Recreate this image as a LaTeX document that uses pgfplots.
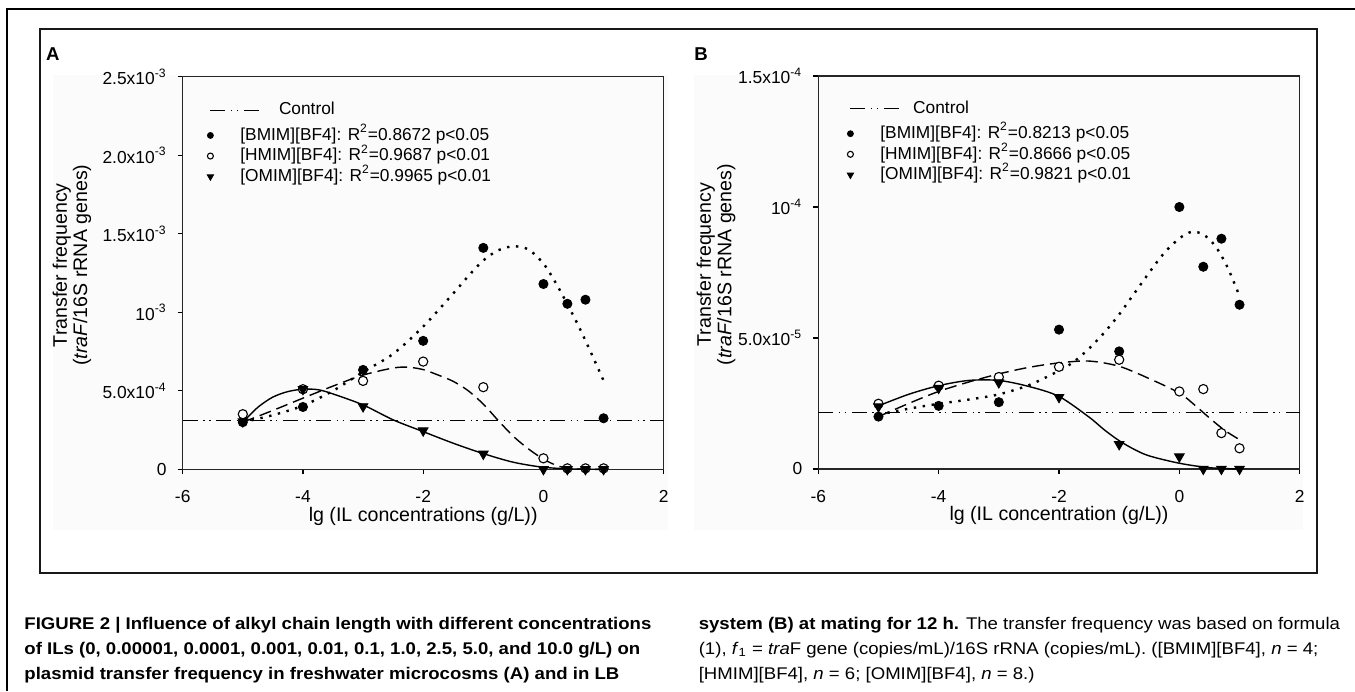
\documentclass[border=0pt]{standalone}
\usepackage{fontspec}
\setmainfont{Liberation Sans}
\usepackage{graphicx}
\usepackage{pgfplots}
\pgfplotsset{compat=1.18}

\newcommand\tickfont{\fontsize{8.7}{10}\selectfont}
\newcommand\labfont{\fontsize{9.8}{10.2}\selectfont}
\newcommand\legfont{\fontsize{8.65}{10}\selectfont}
\newcommand\capfont{\fontsize{8.45}{10}\selectfont}

\pgfplotsset{
  panel/.style={
    scale only axis, width=240.5pt, height=196.3pt,
    xmin=-6, xmax=2, ymin=0,
    xtick={-6,-4,-2,0,2}, xticklabels={-6,-4,-2,0,2},
    tick pos=left, tick align=outside, major tick length=2.5pt,
    scaled y ticks=false,
    ticklabel style={font=\tickfont},
    xticklabel style={yshift=-4.5pt},
    yticklabel style={xshift=-2pt},
    axis line style={black!85, line width=0.7pt},
    tick style={black, line width=0.6pt},
    label style={font=\labfont},
    xlabel style={at={(rel axis cs:0.5,-0.1318)}, anchor=base},
    ylabel style={align=center, anchor=center},
    clip=false,
    legend cell align=left,
    legend style={draw=none, fill=none, inner sep=0pt, anchor=north west,
      font=\legfont, row sep=2pt, column sep=0pt,
      nodes={inner sep=0pt, text height=6.5pt, text depth=1.8pt}},
  },
  ctrl/.style={black, line width=0.6pt,
    dash pattern=on 7.5pt off 2.8pt on 0.7pt off 2.2pt on 0.7pt off 2.8pt,
    legend image code/.code={
      \path[draw=none, fill=none] (-3pt,-6.5pt) rectangle (15pt,2.5pt);
      \draw[##1,overlay] (0pt,0pt) -- (25pt,0pt);}},
  markleg/.style={legend image code/.code={
      \path[draw=none, fill=none] (-3pt,-2.5pt) rectangle (15pt,2.5pt);
      \draw[mark repeat=1,##1,every mark/.append style={scale=0.65}] plot coordinates {(0pt,0pt)};}},
  bm/.style={only marks, mark=*, mark size=2.3pt, mark options={black, fill=black}, markleg},
  hm/.style={only marks, mark=*, mark size=2.3pt, mark options={black, fill=white, line width=0.55pt}, markleg},
  om/.style={only marks, mark=triangle*, mark size=2.8pt, mark options={black, fill=black, rotate=180}, markleg},
  bfit/.style={black, line width=1.2pt, dash pattern=on 1.2pt off 3.3pt, smooth, mark=none},
  hfit/.style={black, line width=0.7pt, dash pattern=on 6pt off 3pt, smooth, mark=none},
  ofit/.style={black, line width=0.7pt, smooth, mark=none},
}

\begin{document}
\begin{tikzpicture}
\path[use as bounding box] (0,0) rectangle (677.5pt,-345.5pt);

% scan background and frames
\fill[black!1.5] (26.5pt,-37.5pt) rectangle (334pt,-265pt);
\fill[black!1.5] (347pt,-37.5pt) rectangle (651.5pt,-265pt);
\draw[black, line width=1.3pt] (677.5pt,-4.5pt) -- (3.5pt,-4.5pt) -- (3.5pt,-345.5pt);
\draw[black!90, line width=1pt] (20pt,-14.5pt) rectangle (658.5pt,-286.5pt);

\node[anchor=base west, inner sep=0pt, font=\fontsize{9.3}{10}\selectfont\bfseries] at (22.85pt,-30pt) {A};
\node[anchor=base west, inner sep=0pt, font=\fontsize{9.3}{10}\selectfont\bfseries] at (347pt,-30pt) {B};

% ---------- panel A ----------
\begin{axis}[panel, at={(91.35pt,-234.65pt)}, anchor=south west,
  ymax=2.5e-3, ytick={0,5e-4,1e-3,1.5e-3,2e-3,2.5e-3},
  yticklabels={0, 5.0x10\textsuperscript{-4}, 10\textsuperscript{-3}, 1.5x10\textsuperscript{-3}, 2.0x10\textsuperscript{-3}, 2.5x10\textsuperscript{-3}},
  xlabel={lg (IL concentrations (g/L))},
  ylabel={Transfer frequency\\(\textit{traF}/16S rRNA genes)},
  ylabel style={at={(rel axis cs:-0.2303,0.52)}},
  legend style={at={(rel axis cs:0.0443,0.937)}},
]
\addplot[ctrl] coordinates {(-6,3.1e-4) (2,3.1e-4)};
\addlegendentry{\hspace{19.3pt}Control}

\addplot[bfit, forget plot] coordinates {
  (-5,3.0e-4) (-4.5,3.45e-4) (-4,4.05e-4) (-3.5,5.0e-4) (-3,6.2e-4) (-2.5,7.35e-4)
  (-2,9.09e-4) (-1.5,1.12e-3) (-1.25,1.23e-3) (-1,1.33e-3) (-0.75,1.395e-3) (-0.5,1.42e-3)
  (-0.25,1.40e-3) (0,1.31e-3) (0.2,1.19e-3) (0.4,1.05e-3) (0.6,0.90e-3) (0.8,0.735e-3) (1,0.565e-3)};
\addplot[hfit, forget plot] coordinates {
  (-5,3.0e-4) (-4.5,3.75e-4) (-4,4.53e-4) (-3.5,5.3e-4) (-3,6.0e-4) (-2.5,6.45e-4)
  (-2.25,6.5e-4) (-2,6.35e-4) (-1.75,6.0e-4) (-1.5,5.6e-4) (-1.25,5.0e-4) (-1,4.15e-4)
  (-0.75,3.1e-4) (-0.5,2.1e-4) (-0.25,1.3e-4) (0,0.65e-4) (0.25,0.2e-4) (0.5,0.03e-4) (0.75,0) (1,0)};
\addplot[ofit, forget plot] coordinates {
  (-5,3.0e-4) (-4.75,3.95e-4) (-4.5,4.6e-4) (-4.25,4.95e-4) (-4,5.1e-4) (-3.75,5.07e-4)
  (-3.5,4.8e-4) (-3,4.1e-4) (-2.5,3.15e-4) (-2,2.4e-4) (-1.5,1.66e-4) (-1,1.0e-4)
  (-0.5,0.45e-4) (0,0.13e-4) (0.5,0.02e-4) (1,0)};

\addplot[bm] coordinates {
  (-5,3.0e-4) (-4,3.97e-4) (-3,6.33e-4) (-2,8.18e-4) (-1,1.41e-3)
  (0,1.18e-3) (0.398,1.054e-3) (0.699,1.08e-3) (1,3.25e-4)};
\addlegendentry{{[BMIM][BF4]}: R\textsuperscript{2}=0.8672 p<0.05}
\addplot[hm] coordinates {
  (-5,3.51e-4) (-4,5.1e-4) (-3,5.63e-4) (-2,6.86e-4) (-1,5.23e-4)
  (0,0.7e-4) (0.398,0.06e-4) (0.699,0.06e-4) (1,0.06e-4)};
\addlegendentry{{[HMIM][BF4]}: R\textsuperscript{2}=0.9687 p<0.01}
\addplot[om] coordinates {
  (-5,3.04e-4) (-4,5.1e-4) (-3,4.0e-4) (-2,2.46e-4) (-1,0.98e-4)
  (0,0) (0.398,0) (0.699,0) (1,0)};
\addlegendentry{{[OMIM][BF4]}: R\textsuperscript{2}=0.9965 p<0.01}
\end{axis}

% ---------- panel B ----------
\begin{axis}[panel, at={(409.15pt,-234.5pt)}, anchor=south west,
  width=240.7pt, height=196.5pt,
  ymax=1.5e-4, ytick={0,5e-5,1e-4,1.5e-4},
  yticklabels={0, 5.0x10\textsuperscript{-5}, 10\textsuperscript{-4}, 1.5x10\textsuperscript{-4}},
  xlabel={lg (IL concentration (g/L))},
  ylabel={Transfer frequency\\(\textit{traF}/16S rRNA genes)},
  ylabel style={at={(rel axis cs:-0.2125,0.52)}},
  legend style={at={(rel axis cs:0.0534,0.9397)}},
]
\addplot[ctrl] coordinates {(-6,2.15e-5) (2,2.15e-5)};
\addlegendentry{\hspace{16.4pt}Control}

\addplot[bfit, forget plot] coordinates {
  (-5,2.07e-5) (-4.5,2.3e-5) (-4,2.49e-5) (-3.5,2.65e-5) (-3,2.85e-5) (-2.5,3.2e-5)
  (-2,3.75e-5) (-1.75,4.1e-5) (-1.5,4.6e-5) (-1.25,5.2e-5) (-1,5.9e-5) (-0.75,6.7e-5)
  (-0.5,7.5e-5) (-0.25,8.25e-5) (0,8.8e-5) (0.2,9.05e-5) (0.4,8.95e-5) (0.6,8.5e-5)
  (0.8,7.7e-5) (1,6.6e-5)};
\addplot[hfit, forget plot] coordinates {
  (-5,2.0e-5) (-4.5,2.5e-5) (-4,2.96e-5) (-3.5,3.32e-5) (-3,3.63e-5) (-2.5,3.88e-5)
  (-2,4.05e-5) (-1.5,4.12e-5) (-1,3.92e-5) (-0.5,3.45e-5) (0,2.9e-5) (0.25,2.45e-5)
  (0.5,1.95e-5) (0.75,1.48e-5) (1,1.12e-5)};
\addplot[ofit, forget plot] coordinates {
  (-5,2.41e-5) (-4.5,2.85e-5) (-4,3.18e-5) (-3.5,3.38e-5) (-3,3.38e-5) (-2.5,3.15e-5)
  (-2,2.77e-5) (-1.5,1.98e-5) (-1.25,1.5e-5) (-1,1.08e-5) (-0.75,0.75e-5) (-0.5,0.5e-5)
  (0,0.22e-5) (0.5,0.05e-5) (1,0)};

\addplot[bm] coordinates {
  (-5,2.0e-5) (-4,2.41e-5) (-3,2.55e-5) (-2,5.32e-5) (-1,4.49e-5)
  (0,1.0e-4) (0.398,7.72e-5) (0.699,8.79e-5) (1,6.27e-5)};
\addlegendentry{{[BMIM][BF4]}: R\textsuperscript{2}=0.8213 p<0.05}
\addplot[hm] coordinates {
  (-5,2.49e-5) (-4,3.18e-5) (-3,3.51e-5) (-2,3.9e-5) (-1,4.17e-5)
  (0,2.96e-5) (0.398,3.05e-5) (0.699,1.37e-5) (1,0.79e-5)};
\addlegendentry{{[HMIM][BF4]}: R\textsuperscript{2}=0.8666 p<0.05}
\addplot[om] coordinates {
  (-5,2.38e-5) (-4,3.09e-5) (-3,3.30e-5) (-2,2.74e-5) (-1,0.94e-5)
  (0,0.47e-5) (0.398,0) (0.699,0) (1,0)};
\addlegendentry{{[OMIM][BF4]}: R\textsuperscript{2}=0.9821 p<0.01}
\end{axis}

% ---------- caption ----------
\begin{scope}[every node/.style={anchor=base west, inner sep=0pt, font=\capfont}]
\node at (12pt,-314.5pt) {\scalebox{1.1}[1]{\bfseries FIGURE 2 | Influence of alkyl chain length with different concentrations}};
\node at (12pt,-327pt) {\scalebox{1.1}[1]{\bfseries of ILs (0, 0.00001, 0.0001, 0.001, 0.01, 0.1, 1.0, 2.5, 5.0, and 10.0 g/L) on}};
\node at (12pt,-339.5pt) {\scalebox{1.1}[1]{\bfseries plasmid transfer frequency in freshwater microcosms (A) and in LB}};
\node at (349.2pt,-314.5pt) {\scalebox{1.1}[1]{\textbf{system (B) at mating for 12 h.} The transfer frequency was based on formula}};
\node at (349.2pt,-327pt) {\scalebox{1.1}[1]{(1), \textit{f}\textsubscript{1} = \textit{tra}F gene (copies/mL)/16S rRNA (copies/mL). ([BMIM][BF4], \textit{n} = 4;}};
\node at (349.2pt,-339.5pt) {\scalebox{1.1}[1]{[HMIM][BF4], \textit{n} = 6; [OMIM][BF4], \textit{n} = 8.)}};
\end{scope}
\end{tikzpicture}
\end{document}
